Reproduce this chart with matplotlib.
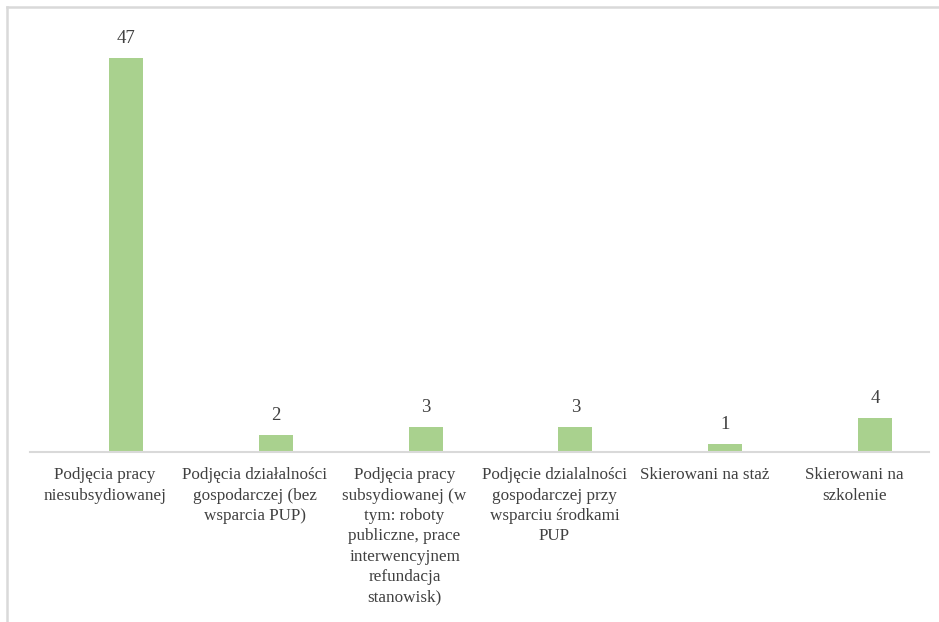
import matplotlib.pyplot as plt
import numpy as np
from matplotlib.lines import Line2D

# Dane
kategorie = [
    'Podjęcia pracy\nniesubsydiowanej',
    'Podjęcia działalności\ngospodarczej (bez\nwsparcia PUP)',
    'Podjęcia pracy\nsubsydiowanej (w\ntym: roboty\npubliczne, prace\ninterwencyjnem\nrefundacja\nstanowisk)',
    'Podjęcie dzialalności\ngospodarczej przy\nwsparciu środkami\nPUP',
    'Skierowani na staż',
    'Skierowani na\nszkolenie',
]
wartosci = [47, 2, 3, 3, 1, 4]

plt.rcParams['font.family'] = ['Liberation Serif', 'DejaVu Serif']

fig = plt.figure(figsize=(9.39, 6.22), dpi=100)
W, H = 939, 622
ax = fig.add_axes([30 / W, 1 - 452 / H, 899 / W, 432 / H])

x = np.arange(len(kategorie))
bars = ax.bar(x + 0.14, wartosci, width=0.227, color='#A9D18E', zorder=2)

for b, v in zip(bars, wartosci):
    ax.annotate(str(v), (b.get_x() + b.get_width() / 2, b.get_height()),
                xytext=(0, 8), textcoords='offset points',
                ha='center', va='bottom', fontsize=13.5, color='#404040')

ax.set_xlim(-0.5, len(kategorie) - 0.5)
ax.set_ylim(0, 51.5)
ax.set_yticks([])
ax.set_xticks(x)
ax.set_xticklabels(kategorie, fontsize=12.3, color='#404040', linespacing=1.36)
ax.tick_params(axis='x', length=0, pad=11)
for s in ['top', 'right', 'left']:
    ax.spines[s].set_visible(False)
ax.spines['bottom'].set_color('#D9D9D9')
ax.spines['bottom'].set_linewidth(1.5)

# ramka wykresu (przycięta)
fig.add_artist(Line2D([6.5 / W, 1], [1 - 6.5 / H, 1 - 6.5 / H],
                      transform=fig.transFigure, color='#D9D9D9', lw=1.8))
fig.add_artist(Line2D([6.5 / W, 6.5 / W], [0, 1 - 6.5 / H],
                      transform=fig.transFigure, color='#D9D9D9', lw=1.8))

fig.savefig('out.png', dpi=100)
